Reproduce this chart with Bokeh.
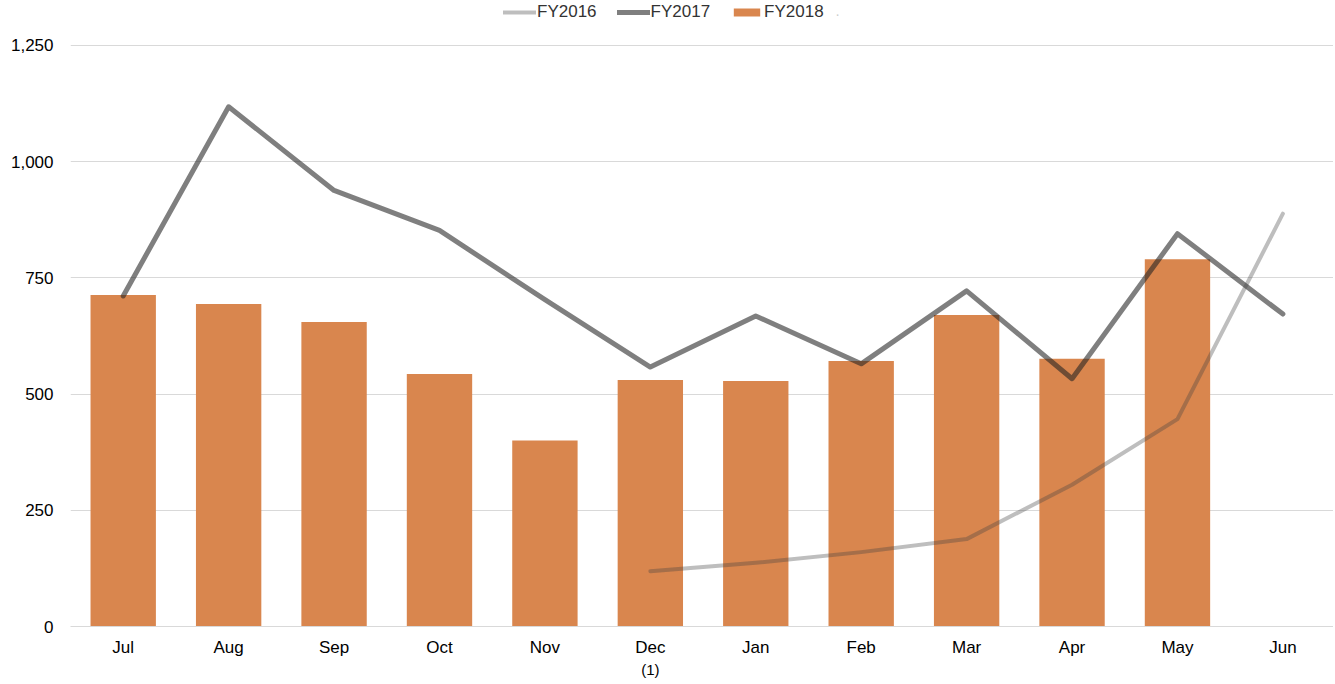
import math
from bokeh.plotting import figure
from bokeh.models import (Range1d, FixedTicker, NumeralTickFormatter, Legend, LegendItem,
                          Label, LinearAxis)
from bokeh.embed import file_html
from bokeh.resources import INLINE

months = ["Jul", "Aug", "Sep", "Oct", "Nov", "Dec", "Jan", "Feb", "Mar", "Apr", "May", "Jun"]
fy2018 = [713, 694, 655, 543, 400, 530, 528, 571, 670, 576, 790, float("nan")]
fy2017 = [711, 1118, 938, 852, 703, 558, 668, 565, 722, 533, 845, 672]
fy2016 = [float("nan")] * 5 + [119, 137, 160, 188, 305, 446, 888]
y_ticks = [0, 250, 500, 750, 1000, 1250]
dec_note = "(1)"

xs = list(range(len(months)))
FONT = "Liberation Sans"

p = figure(width=1333, height=680, output_backend="svg", toolbar_location=None,
           x_range=Range1d(-0.5, 11.48), y_range=Range1d(0, 1346.6),
           min_border_left=70, min_border_right=0, min_border_top=0, min_border_bottom=20)
p.outline_line_color = None
p.background_fill_color = "white"

bars = p.vbar(x=[x for x, v in zip(xs, fy2018) if not math.isnan(v)],
              top=[v for v in fy2018 if not math.isnan(v)],
              width=0.62, color="#D9864E", line_color=None)
l17 = p.line(xs, fy2017, line_color="#222222", line_alpha=0.58, line_width=5,
             line_join="round", line_cap="round")
l16 = p.line(xs, fy2016, line_color="#404040", line_alpha=0.34, line_width=4,
             line_join="round", line_cap="round")

p.xaxis.ticker = FixedTicker(ticks=xs)
p.xaxis.major_label_overrides = {i: m for i, m in enumerate(months)}
p.xaxis.axis_line_color = "#d9d9d9"
p.xaxis.major_tick_line_color = None
p.xaxis.major_tick_out = 0
p.xaxis.minor_tick_line_color = None
p.xaxis.minor_tick_out = 0
p.xaxis.major_label_text_font = FONT
p.xaxis.major_label_text_font_size = "17px"
p.xaxis.major_label_text_color = "#000000"
p.xaxis.major_label_standoff = 11
p.xgrid.grid_line_color = None

note_axis = LinearAxis(ticker=FixedTicker(ticks=[5]),
                       major_label_overrides={5: dec_note},
                       axis_line_color=None, major_tick_line_color=None,
                       minor_tick_line_color=None, major_tick_out=0, minor_tick_out=0,
                       major_label_text_font=FONT, major_label_text_font_size="15px",
                       major_label_text_color="#000000", major_label_standoff=1)
p.add_layout(note_axis, "below")

p.yaxis.ticker = FixedTicker(ticks=y_ticks)
p.yaxis.formatter = NumeralTickFormatter(format="0,0")
p.yaxis.axis_line_color = None
p.yaxis.major_tick_line_color = None
p.yaxis.major_tick_out = 0
p.yaxis.minor_tick_line_color = None
p.yaxis.minor_tick_out = 0
p.yaxis.major_label_text_font = FONT
p.yaxis.major_label_text_font_size = "17px"
p.yaxis.major_label_text_color = "#000000"
p.yaxis.major_label_standoff = 17
p.ygrid.ticker = FixedTicker(ticks=y_ticks)
p.ygrid.grid_line_color = "#d9d9d9"

legend = Legend(items=[LegendItem(label="FY2016", renderers=[l16]),
                       LegendItem(label="FY2017", renderers=[l17]),
                       LegendItem(label="FY2018", renderers=[bars])],
                orientation="horizontal", location=(433, 604),
                label_text_font=FONT, label_text_font_size="17px",
                label_text_color="#333333", border_line_color=None,
                background_fill_alpha=0, glyph_width=33, glyph_height=10,
                spacing=20, label_standoff=1, margin=0, padding=0)
p.add_layout(legend)

p.add_layout(Label(x=767, y=613, x_units="screen", y_units="screen", text="·",
                   text_font=FONT, text_font_size="14px", text_color="#cccccc",
                   text_align="center", text_baseline="middle"))

open("out.html", "w").write(file_html(p, INLINE))
